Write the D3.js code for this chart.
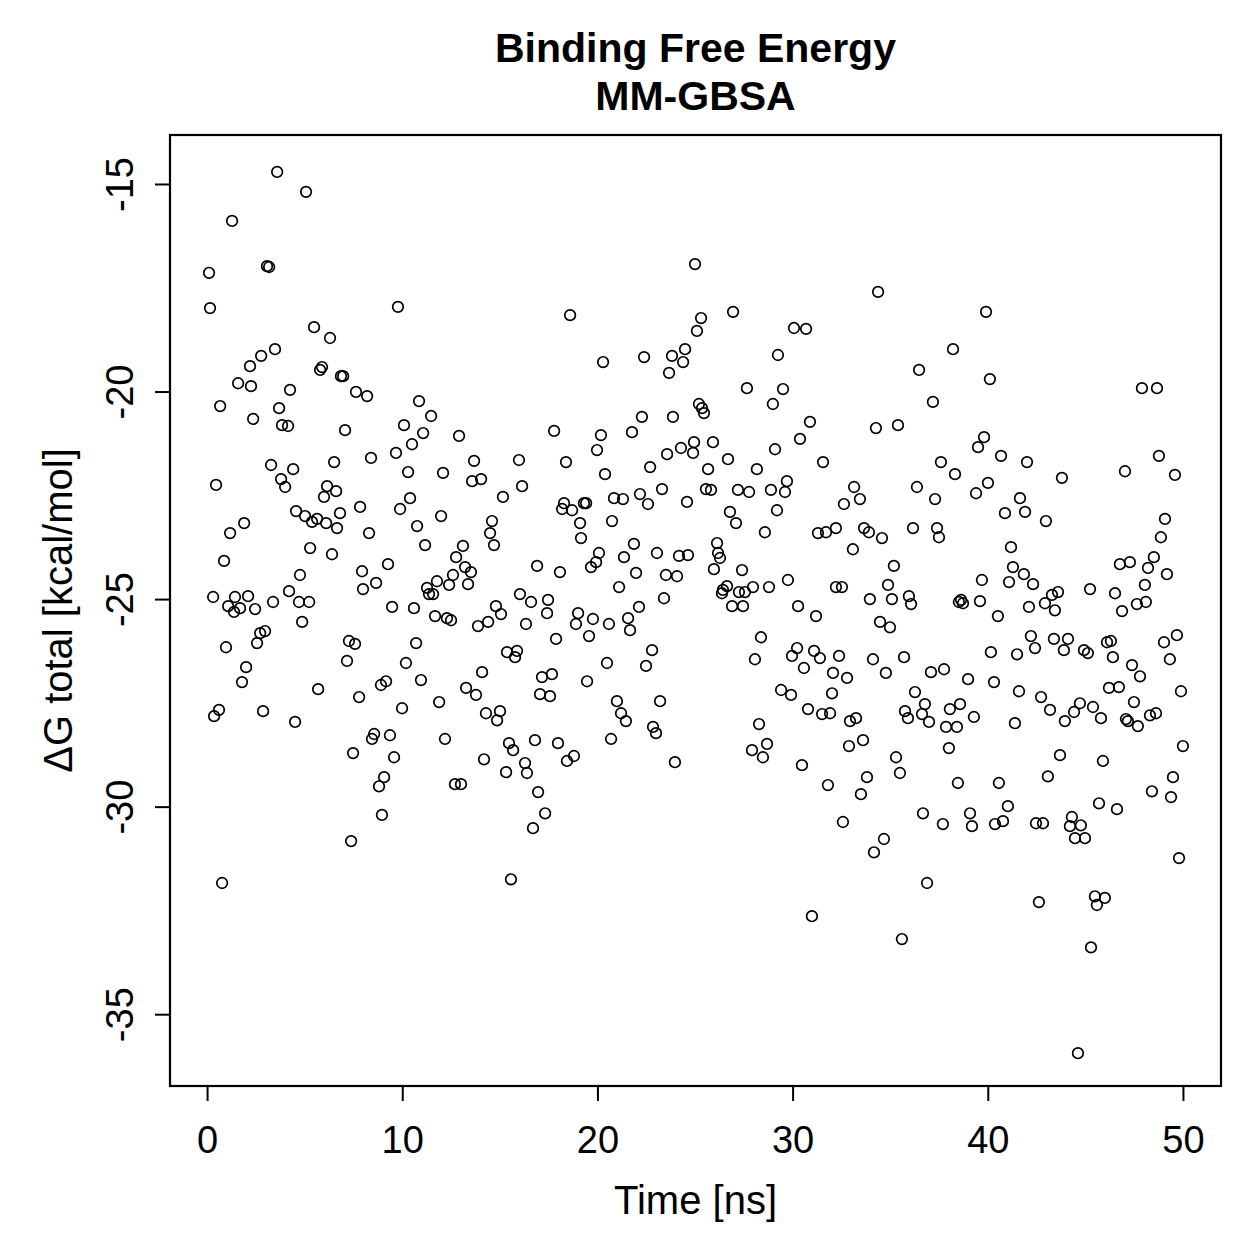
<!DOCTYPE html>
<html><head><meta charset="utf-8">
<script src="https://cdn.jsdelivr.net/npm/d3@7"></script>
<style>body{margin:0;background:#fff}svg{display:block}text{font-family:"Liberation Sans",Arial,Helvetica,sans-serif}</style>
</head><body>
<script>
const titleLines = ["Binding Free Energy", "MM-GBSA"];
const xLabel = "Time [ns]";
const yLabel = "ΔG total [kcal/mol]";
const xTicks = [0, 10, 20, 30, 40, 50];
const yTicks = [-35, -30, -25, -20, -15];

const tA = [3.59,5.07,1.28,3.07,3.18,0.10,0.15,5.48,6.30,3.48,2.77,2.20,1.59,2.25,4.25,5.79,5.89,6.86,6.97,7.63,0.67,3.69,2.36,3.84,4.15,7.07,3.28,4.41,6.51,3.79,4.00,0.46,6.15,6.61,5.99,7.84,4.56,5.02,5.38,5.64,6.10,6.81,6.66,1.90,1.18,0.87,5.28,6.40,4.76,4.20,7.94,7.99,0.31,1.43,2.10,1.08,1.69,2.46,3.38,4.71,5.23,1.38,4.87,2.72,2.97,2.56,0.97,7.27,7.58,7.17,2.00,1.79,5.69,7.79,0.61,0.36,2.87,4.51,7.48,7.38,0.77];
const gA = [-14.71,-15.19,-15.89,-16.98,-17.00,-17.14,-17.99,-18.45,-18.71,-18.98,-19.14,-19.39,-19.80,-19.87,-19.96,-19.48,-19.41,-19.63,-19.63,-20.01,-20.35,-20.40,-20.66,-20.81,-20.83,-20.93,-21.77,-21.87,-21.70,-22.11,-22.30,-22.25,-22.28,-22.40,-22.54,-22.78,-22.88,-23.00,-23.14,-23.07,-23.17,-22.93,-23.29,-23.17,-23.41,-24.08,-23.77,-23.92,-24.42,-24.81,-24.33,-24.76,-24.95,-24.95,-24.93,-25.17,-25.22,-25.24,-25.07,-25.07,-25.07,-25.31,-25.55,-25.82,-25.77,-26.06,-26.16,-26.01,-26.08,-26.49,-26.64,-27.00,-27.17,-27.36,-27.67,-27.82,-27.70,-27.96,-28.71,-30.83,-31.84];

const tB = [9.78,8.20,10.86,11.48,10.09,11.07,12.91,10.50,9.68,8.40,10.30,12.09,13.68,13.58,14.04,15.98,16.14,15.16,10.40,9.89,11.99,10.76,8.30,14.60,14.50,14.70,11.17,13.11,12.76,9.27,13.22,13.52,8.66,12.60,11.78,11.27,12.40,13.37,11.37,11.58,16.03,9.48,10.60,14.80,11.68,12.29,12.50,13.88,14.40,15.06,16.34,10.71,10.19,10.96,8.91,9.17,15.37,15.88,15.78,14.09,13.27,13.78,14.29,15.01,14.86,9.99,11.89,8.56,8.45,9.37,12.19,9.58,15.47,15.68,14.19,15.32,16.29,16.39,9.07,8.81,12.70,13.01,8.96,15.57];
const gB = [-17.96,-20.11,-20.23,-20.59,-20.81,-21.00,-21.07,-21.27,-21.48,-21.60,-21.94,-21.96,-21.67,-22.16,-22.11,-21.65,-22.28,-22.54,-22.57,-22.83,-23.00,-23.24,-23.41,-23.12,-23.41,-23.70,-23.70,-23.72,-23.99,-24.16,-24.23,-24.35,-24.61,-24.42,-24.57,-24.73,-24.66,-24.64,-24.88,-24.88,-24.88,-25.19,-25.22,-25.17,-25.41,-25.46,-25.51,-25.65,-25.55,-25.36,-25.60,-26.06,-26.54,-26.95,-27.07,-26.98,-26.28,-26.25,-26.40,-26.76,-27.14,-27.31,-27.75,-27.70,-27.92,-27.63,-27.48,-28.25,-28.37,-28.28,-28.37,-28.81,-28.47,-28.64,-28.86,-29.17,-28.95,-29.19,-29.29,-29.51,-29.46,-29.46,-30.20,-31.75];

const tC = [18.60,20.29,22.39,23.82,24.49,24.39,23.67,22.28,23.87,17.78,20.18,21.77,19.98,18.39,20.39,22.70,23.57,24.28,18.29,18.19,18.70,19.31,19.42,19.11,19.16,20.75,20.85,21.31,22.18,22.59,23.31,24.59,21.87,21.36,20.08,19.93,19.67,23.05,24.18,24.64,16.91,18.08,21.98,23.51,24.08,21.11,16.60,17.47,23.41,22.13,17.42,17.88,19.01,18.90,19.77,19.57,20.59,21.57,21.67,22.80,22.49,20.49,19.47,17.16,17.67,17.06,17.57,21.00,21.21,21.46,23.21,22.85,23.00,20.70,23.97,16.80,17.98,18.44,18.80,16.96,17.32,16.70];
const gC = [-18.16,-19.29,-19.17,-19.14,-18.98,-19.29,-19.55,-20.61,-20.61,-20.95,-21.05,-20.98,-21.41,-21.70,-21.99,-21.82,-21.51,-21.36,-22.69,-22.83,-22.86,-22.69,-22.69,-23.17,-23.53,-23.12,-22.57,-22.59,-22.47,-22.71,-22.35,-22.66,-23.67,-23.99,-23.89,-24.11,-24.23,-23.89,-23.96,-23.94,-24.20,-24.35,-24.37,-24.42,-24.45,-24.71,-25.07,-25.02,-24.98,-25.19,-25.34,-25.96,-25.34,-25.60,-25.48,-25.89,-25.60,-25.46,-25.75,-26.23,-26.61,-26.54,-26.98,-26.88,-26.81,-27.29,-27.34,-27.46,-27.75,-27.94,-27.46,-28.08,-28.23,-28.37,-28.93,-28.40,-28.47,-28.90,-28.78,-29.65,-30.16,-30.52];

const tD = [25.00,26.95,25.31,25.10,30.07,30.69,29.25,27.66,29.51,28.99,25.20,25.36,25.46,30.89,30.38,24.95,24.90,25.92,29.10,26.69,31.56,25.67,28.17,29.71,29.61,28.89,27.20,27.77,25.56,25.82,33.15,33.45,32.63,26.79,27.10,29.20,28.58,31.30,31.71,32.22,33.66,33.09,26.13,26.18,26.28,25.97,27.41,29.76,28.79,27.97,26.64,26.43,26.38,27.25,27.56,32.22,32.53,26.90,27.46,30.28,31.20,28.38,28.07,30.23,29.97,31.10,31.40,32.38,30.58,32.07,32.79,29.41,29.92,32.02,30.79,31.51,31.92,32.94,33.25,28.28,33.61,32.89,28.69,27.92,28.48,30.48,31.81,33.50,32.58,30.99];
const gD = [-16.93,-18.08,-18.23,-18.54,-18.47,-18.49,-19.12,-19.92,-19.94,-20.30,-20.30,-20.40,-20.52,-20.73,-21.14,-21.22,-21.48,-21.22,-21.39,-21.63,-21.70,-21.87,-21.87,-22.16,-22.42,-22.37,-22.37,-22.42,-22.35,-22.37,-22.30,-22.59,-22.71,-22.90,-23.17,-22.86,-23.39,-23.41,-23.39,-23.29,-23.29,-23.80,-23.65,-23.89,-24.01,-24.28,-24.30,-24.54,-24.71,-24.71,-24.69,-24.78,-24.86,-24.83,-24.83,-24.71,-24.71,-25.17,-25.17,-25.17,-25.41,-25.92,-26.45,-26.18,-26.37,-26.25,-26.42,-26.37,-26.66,-26.78,-26.90,-27.19,-27.31,-27.27,-27.65,-27.77,-27.75,-27.94,-27.87,-28.01,-28.40,-28.54,-28.49,-28.64,-28.81,-29.00,-29.48,-29.70,-30.37,-32.64];

const tE = [34.38,39.91,38.22,36.48,40.11,37.19,34.27,35.40,39.81,39.50,40.68,42.01,37.60,38.32,36.37,37.30,40.01,39.40,41.65,41.91,40.88,33.91,34.58,36.17,37.40,37.50,41.19,35.19,34.89,41.29,41.85,41.09,39.70,33.96,35.09,35.96,36.07,38.63,38.73,38.52,39.60,40.52,42.11,42.21,34.48,34.99,34.12,34.78,35.71,37.09,37.76,38.99,40.16,41.50,40.32,41.60,36.27,36.78,35.76,35.91,36.63,36.99,38.06,38.58,39.29,37.86,38.42,41.39,38.01,35.30,35.50,33.81,38.47,40.57,41.03,40.78,40.37,39.09,39.19,37.70,36.68,34.68,34.17,36.89,35.60];
const gE = [-17.60,-18.08,-18.98,-19.48,-19.70,-20.25,-20.88,-20.81,-21.10,-21.34,-21.55,-21.70,-21.70,-21.99,-22.30,-22.59,-22.20,-22.45,-22.57,-22.90,-22.93,-23.39,-23.53,-23.29,-23.29,-23.51,-23.75,-24.20,-24.66,-24.23,-24.40,-24.59,-24.54,-25.00,-25.00,-24.93,-25.12,-25.02,-25.10,-25.07,-25.05,-25.41,-25.19,-25.89,-25.55,-25.68,-26.45,-26.78,-26.40,-26.76,-26.69,-26.93,-26.28,-26.33,-27.00,-27.22,-27.24,-27.53,-27.70,-27.87,-27.77,-27.96,-27.65,-27.53,-27.84,-28.08,-28.08,-27.99,-28.59,-28.81,-29.19,-29.29,-29.43,-29.43,-29.99,-30.35,-30.42,-30.16,-30.47,-30.42,-30.16,-30.78,-31.10,-31.84,-33.19];

const tF = [47.90,48.67,43.80,47.03,48.77,49.59,42.98,49.08,48.87,48.51,46.77,47.28,48.21,49.18,48.05,42.32,43.29,43.60,45.24,46.52,48.10,47.64,42.93,43.44,46.88,42.42,43.39,44.11,43.90,44.93,45.13,46.11,46.31,46.41,47.39,47.80,49.03,49.69,49.33,49.90,42.73,43.19,43.95,44.42,44.72,45.39,45.80,46.21,46.72,47.49,47.08,47.18,47.69,48.31,48.62,43.70,45.90,43.08,50.00,49.49,48.41,49.39,45.70,46.62,42.47,42.83,44.31,44.21,44.77,44.47,44.98,49.80,42.62,45.49,46.00,45.59,45.29,44.62];
const gF = [-19.92,-19.92,-22.08,-21.92,-21.55,-22.01,-23.12,-23.07,-23.51,-23.99,-24.16,-24.11,-24.25,-24.40,-24.66,-24.64,-24.90,-24.83,-24.76,-24.86,-25.07,-25.12,-25.10,-25.27,-25.29,-26.18,-25.96,-25.96,-26.23,-26.23,-26.30,-26.04,-26.01,-26.40,-26.59,-26.86,-26.04,-25.87,-26.45,-27.22,-27.36,-27.67,-27.94,-27.72,-27.51,-27.60,-27.87,-27.14,-27.12,-27.48,-27.89,-27.94,-28.06,-27.80,-27.75,-28.76,-28.90,-29.27,-28.54,-29.29,-29.63,-29.77,-29.92,-30.06,-30.40,-30.40,-30.25,-30.47,-30.45,-30.76,-30.76,-31.24,-32.30,-32.16,-32.20,-32.37,-33.39,-35.94];

const timeNs = [].concat(tA, tB, tC, tD, tE, tF);
const deltaG = [].concat(gA, gB, gC, gD, gE, gF);
const points = timeNs.map((t, i) => ({t, g: deltaG[i]}));

const W = 1259, H = 1259;
const box = {left: 170, right: 1221, top: 135, bottom: 1086};
const xlim = [-1.9, 51.95], ylim = [-36.73, -13.82];

const svg = d3.select("body").append("svg").attr("width", W).attr("height", H);
const x = d3.scaleLinear().domain(xlim).range([box.left, box.right]);
const y = d3.scaleLinear().domain(ylim).range([box.bottom, box.top]);

const tickFont = 38, labelFont = 40;
const fmt = d => String(d);

// points
svg.append("g").selectAll("circle").data(points).join("circle")
  .attr("cx", d => x(d.t)).attr("cy", d => y(d.g)).attr("r", 5.3)
  .attr("fill", "none").attr("stroke", "#000").attr("stroke-width", 1.7);

// box
svg.append("rect").attr("x", box.left).attr("y", box.top)
  .attr("width", box.right - box.left).attr("height", box.bottom - box.top)
  .attr("fill", "none").attr("stroke", "#000").attr("stroke-width", 2.2);

// x axis
const xAxis = svg.append("g").attr("transform", `translate(0,${box.bottom})`)
  .call(d3.axisBottom(x).tickValues(xTicks).tickSize(15).tickSizeOuter(0).tickFormat(fmt));
xAxis.select(".domain").remove();
xAxis.append("line").attr("x1", x(xTicks[0])).attr("x2", x(xTicks[xTicks.length-1]))
  .attr("stroke", "#000").attr("stroke-width", 2);
xAxis.selectAll(".tick line").attr("stroke-width", 2);
xAxis.selectAll(".tick text").attr("y", 67).attr("dy", 0)
  .attr("font-size", tickFont).attr("fill", "#000").style("font-family", '"Liberation Sans",Arial,sans-serif');

// y axis
const yAxis = svg.append("g").attr("transform", `translate(${box.left},0)`)
  .call(d3.axisLeft(y).tickValues(yTicks).tickSize(15).tickSizeOuter(0).tickFormat(fmt));
yAxis.select(".domain").remove();
yAxis.append("line").attr("y1", y(yTicks[0])).attr("y2", y(yTicks[yTicks.length-1]))
  .attr("stroke", "#000").attr("stroke-width", 2);
yAxis.selectAll(".tick line").attr("stroke-width", 2);
yAxis.selectAll(".tick text").attr("transform", "rotate(-90)")
  .attr("x", 0).attr("y", -37).attr("dy", 0).attr("text-anchor", "middle")
  .attr("font-size", tickFont).attr("fill", "#000").style("font-family", '"Liberation Sans",Arial,sans-serif');

// title
const cx = (box.left + box.right) / 2;
svg.append("text").attr("x", cx).attr("y", 62).attr("text-anchor", "middle")
  .attr("font-size", 41).attr("font-weight", "bold").text(titleLines[0]);
svg.append("text").attr("x", cx).attr("y", 110).attr("text-anchor", "middle")
  .attr("font-size", 41).attr("font-weight", "bold").text(titleLines[1]);

// axis labels
svg.append("text").attr("x", cx).attr("y", 1214).attr("text-anchor", "middle")
  .attr("font-size", labelFont).text(xLabel);
svg.append("text").attr("transform", `translate(72,${(box.top + box.bottom) / 2}) rotate(-90)`)
  .attr("text-anchor", "middle").attr("font-size", labelFont).text(yLabel);
</script>
</body></html>
